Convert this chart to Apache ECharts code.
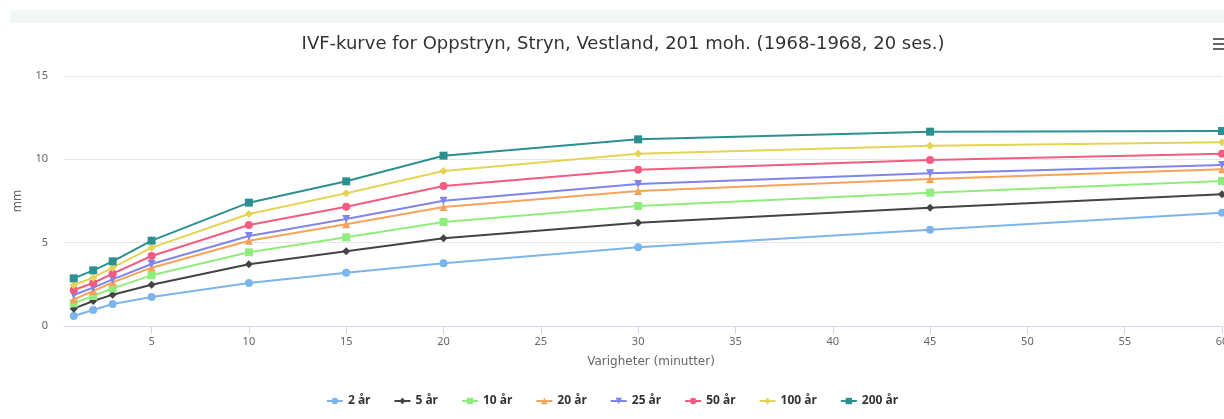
<!DOCTYPE html>
<html>
<head>
<meta charset="utf-8">
<script src="https://cdn.jsdelivr.net/npm/echarts@6/dist/echarts.min.js"></script>
<style>
  html, body { margin: 0; padding: 0; background: #fff; }
  #chart { width: 1224px; height: 419px; }
</style>
</head>
<body>
<div id="chart"></div>
<script>
// varigheter (minutter)
var durations = [1, 2, 3, 5, 10, 15, 20, 30, 45, 60];
var xTicks = [5, 10, 15, 20, 25, 30, 35, 40, 45, 50, 55, 60];

// nedbør (mm) per gjentaksintervall
var ar2   = [0.60, 0.96, 1.32, 1.74, 2.58, 3.20, 3.76, 4.72, 5.78, 6.80];
var ar5   = [1.04, 1.50, 1.88, 2.48, 3.70, 4.48, 5.26, 6.20, 7.10, 7.90];
var ar10  = [1.36, 1.80, 2.26, 3.04, 4.42, 5.32, 6.24, 7.20, 8.00, 8.70];
var ar20  = [1.60, 2.10, 2.62, 3.50, 5.12, 6.10, 7.14, 8.10, 8.82, 9.40];
var ar25  = [1.86, 2.30, 2.80, 3.72, 5.40, 6.42, 7.52, 8.52, 9.16, 9.66];
var ar50  = [2.16, 2.58, 3.14, 4.20, 6.06, 7.16, 8.40, 9.38, 9.96, 10.34];
var ar100 = [2.46, 2.90, 3.50, 4.70, 6.72, 7.96, 9.30, 10.34, 10.82, 11.02];
var ar200 = [2.86, 3.34, 3.88, 5.12, 7.40, 8.68, 10.22, 11.20, 11.66, 11.70];

var seriesNames = ['2 år', '5 år', '10 år', '20 år', '25 år', '50 år', '100 år', '200 år'];
var seriesData = [ar2, ar5, ar10, ar20, ar25, ar50, ar100, ar200];
var colors = ['#7cb5ec', '#434348', '#90ed7d', '#f7a35c', '#8085e9', '#f15c80', '#e4d354', '#2b908f'];
var symbols = ['circle', 'diamond', 'rect', 'triangle', 'triangle', 'circle', 'diamond', 'rect'];
var rotates = [0, 0, 0, 0, 180, 0, 0, 0];

var font = '"Noto Sans", "DejaVu Sans", sans-serif';

function pairs(arr) {
    var out = [];
    for (var i = 0; i < durations.length; i++) {
        out.push([durations[i], arr[i]]);
    }
    return out;
}

var series = [];
for (var i = 0; i < seriesNames.length; i++) {
    series.push({
        name: seriesNames[i],
        type: 'line',
        data: pairs(seriesData[i]),
        symbol: symbols[i],
        symbolSize: 8,
        symbolRotate: rotates[i],
        showAllSymbol: true,
        lineStyle: { width: 2, color: colors[i] },
        itemStyle: { color: colors[i] },
        emphasis: { disabled: true },
        z: 2 + i
    });
}

var myChart = echarts.init(document.getElementById('chart'));
var option = {
    animation: false,
    color: colors,
    title: {
        text: 'IVF-kurve for Oppstryn, Stryn, Vestland, 201 moh. (1968-1968, 20 ses.)',
        left: 618,
        top: 30,
        textAlign: 'center',
        textStyle: { fontFamily: '"DejaVu Sans", sans-serif', fontSize: 18, fontWeight: 'normal', color: '#333333' }
    },
    graphic: [
        { type: 'rect', shape: { x: 10, y: 10, width: 1214, height: 13 }, style: { fill: '#f2f7f5' }, silent: true },
        { type: 'rect', shape: { x: 1213, y: 38, width: 11, height: 2 }, style: { fill: '#666666' }, silent: true },
        { type: 'rect', shape: { x: 1213, y: 43, width: 11, height: 2 }, style: { fill: '#666666' }, silent: true },
        { type: 'rect', shape: { x: 1213, y: 48, width: 11, height: 2 }, style: { fill: '#666666' }, silent: true }
    ],
    legend: {
        data: seriesNames,
        left: 'center',
        top: 390,
        itemWidth: 16,
        itemHeight: 8,
        itemGap: 23,
        textStyle: { fontFamily: font, fontSize: 12, fontWeight: 'bold', color: '#333333' }
    },
    grid: { left: 64, right: 2, top: 76, bottom: 93, containLabel: false, outerBoundsMode: 'none' },
    xAxis: {
        type: 'value',
        min: 0.5,
        max: 60,
        name: 'Varigheter (minutter)',
        nameLocation: 'middle',
        nameGap: 30,
        nameTextStyle: { fontFamily: '"DejaVu Sans", sans-serif', fontSize: 12, color: '#666666', padding: [0, 0, 0, 16] },
        axisLine: { show: true, lineStyle: { color: '#ccd6eb', width: 1 } },
        axisTick: { show: true, customValues: xTicks, length: 8, lineStyle: { color: '#ccd6eb' } },
        axisLabel: { customValues: xTicks, fontFamily: font, fontSize: 11, color: '#666666', margin: 10 },
        splitLine: { show: false }
    },
    yAxis: {
        type: 'value',
        min: 0,
        max: 15,
        interval: 5,
        name: 'mm',
        nameLocation: 'middle',
        nameGap: 40,
        nameRotate: 90,
        nameTextStyle: { fontFamily: font, fontSize: 12, color: '#666666' },
        axisLine: { show: false },
        axisTick: { show: false },
        axisLabel: { fontFamily: font, fontSize: 11, color: '#666666', margin: 16 },
        splitLine: { show: true, lineStyle: { color: '#e6e6e6', width: 1 } }
    },
    series: series
};
myChart.setOption(option);
window.addEventListener("resize", function () {
    myChart.resize();
});
</script>
</body>
</html>
